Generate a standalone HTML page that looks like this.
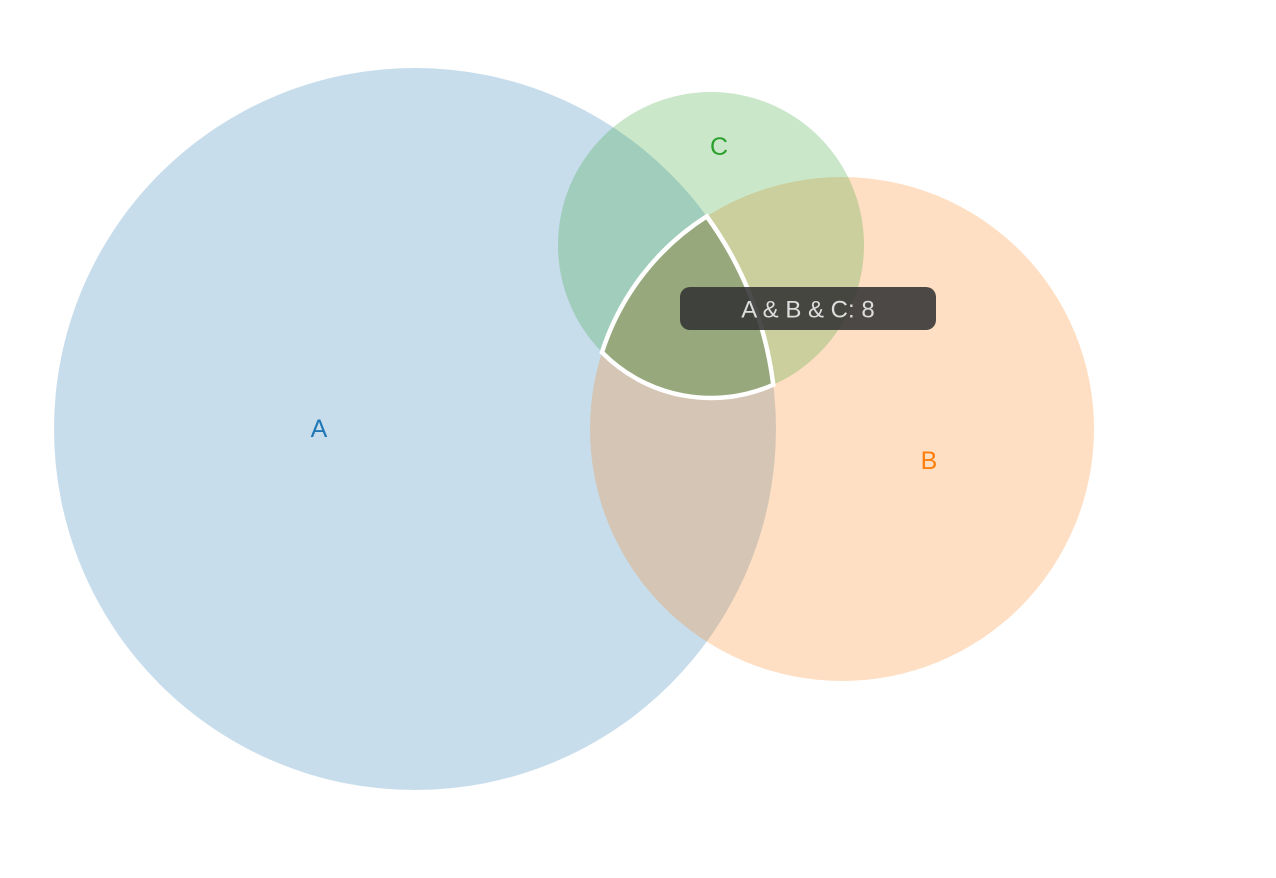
<!DOCTYPE html>
<html><head><meta charset="utf-8"><style>
html,body{margin:0;padding:0;background:#fff;width:1276px;height:878px;overflow:hidden}
svg{display:block}
text{font-family:"Liberation Sans","DejaVu Sans",sans-serif}
</style></head><body>
<svg id="chart" width="1276" height="878"></svg>
<script>
const setNames = ['A','B','C'];
const centerX = [415, 842, 711];
const centerY = [429, 429, 245];
const radii = [361, 252, 153];
const colors = ['#1f77b4','#ff7f0e','#2ca02c'];
const labelX = [319, 929, 719];
const labelY = [429, 461, 147];
const tooltipText = 'A & B & C: 8';

const NS = 'http://www.w3.org/2000/svg';
const svg = document.getElementById('chart');
function mk(tag, attrs){const e=document.createElementNS(NS,tag);for(const k in attrs)e.setAttribute(k,attrs[k]);return e;}

setNames.forEach((n,i)=>{
  const c = mk('circle',{cx:centerX[i],cy:centerY[i],r:radii[i],fill:colors[i],'fill-opacity':0.25});
  
  
  svg.appendChild(c);
});

function inter(i,j){
  const x0=centerX[i],y0=centerY[i],r0=radii[i],x1=centerX[j],y1=centerY[j],r1=radii[j];
  const dx=x1-x0,dy=y1-y0,d=Math.hypot(dx,dy);
  const a=(r0*r0-r1*r1+d*d)/(2*d),h=Math.sqrt(Math.max(0,r0*r0-a*a));
  const xm=x0+a*dx/d,ym=y0+a*dy/d;
  return [[xm+h*dy/d,ym-h*dx/d],[xm-h*dy/d,ym+h*dx/d]];
}
function inside(p,k){return Math.hypot(p[0]-centerX[k],p[1]-centerY[k])<=radii[k]+0.5;}
function pick(i,j,k){return inter(i,j).find(p=>inside(p,k));}
const pAB = pick(0,1,2), pBC = pick(1,2,0), pAC = pick(0,2,1);
const d = `M${pAB[0]},${pAB[1]} A${radii[1]},${radii[1]} 0 0 0 ${pBC[0]},${pBC[1]} A${radii[2]},${radii[2]} 0 0 0 ${pAC[0]},${pAC[1]} A${radii[0]},${radii[0]} 0 0 0 ${pAB[0]},${pAB[1]}Z`;
const region = mk('path',{d:d,fill:'#556b2f','fill-opacity':0.22,stroke:'#fff','stroke-width':4.5});


svg.appendChild(region);

setNames.forEach((n,i)=>{
  const t = mk('text',{x:labelX[i],y:labelY[i],fill:colors[i],'font-size':25,'text-anchor':'middle','dominant-baseline':'central'});
  t.textContent = n;
  
  
  svg.appendChild(t);
});

const g = mk('g',{});


g.appendChild(mk('rect',{x:680,y:287,width:256,height:43,rx:10,fill:'#333','fill-opacity':0.88}));
const tt = mk('text',{x:808,y:310,fill:'#ddd','font-size':24,'text-anchor':'middle','dominant-baseline':'central'});
tt.textContent = tooltipText;
g.appendChild(tt);
svg.appendChild(g);
</script>
</body></html>
